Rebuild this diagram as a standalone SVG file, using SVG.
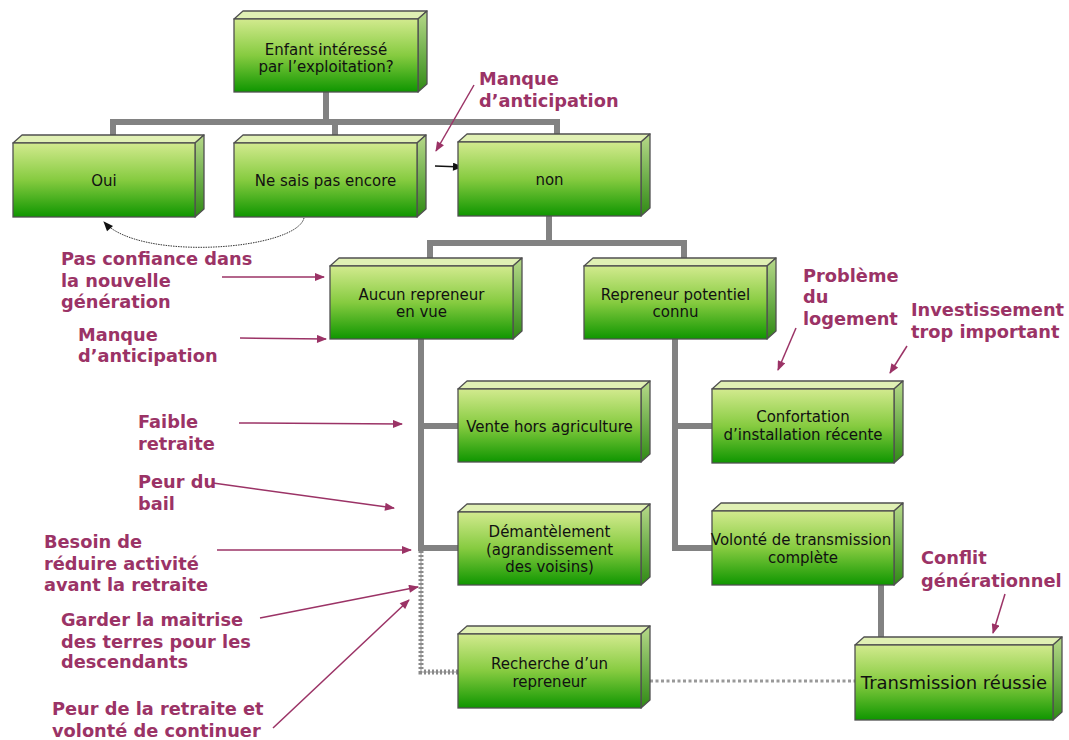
<svg xmlns="http://www.w3.org/2000/svg" width="1069" height="740" viewBox="0 0 1069 740">
<defs>
<linearGradient id="gf" x1="0" y1="0" x2="0" y2="1">
<stop offset="0" stop-color="#d2ea8e"/>
<stop offset="0.5" stop-color="#86cb40"/>
<stop offset="1" stop-color="#0f9600"/>
</linearGradient>
<linearGradient id="gr" x1="0" y1="0" x2="0" y2="1">
<stop offset="0" stop-color="#b7d98a"/>
<stop offset="1" stop-color="#2f8a14"/>
</linearGradient>
<marker id="ap" viewBox="0 0 10 8" refX="9" refY="4" markerWidth="11" markerHeight="8" markerUnits="userSpaceOnUse" orient="auto">
<path d="M0,0 L10,4 L0,8 Z" fill="#9b3366"/>
</marker>
<marker id="ab" viewBox="0 0 10 8" refX="9" refY="4" markerWidth="11" markerHeight="8" markerUnits="userSpaceOnUse" orient="auto">
<path d="M0,0 L10,4 L0,8 Z" fill="#111"/>
</marker>
<style>
.f{fill:url(#gf);stroke:#505050;stroke-width:1.3}
.t{fill:#e0f0b4;stroke:#505050;stroke-width:1.3;stroke-linejoin:round}
.r{fill:url(#gr);stroke:#505050;stroke-width:1.3;stroke-linejoin:round}
.n{font-family:"DejaVu Sans",Verdana,sans-serif;font-size:15px;fill:#111;text-anchor:middle}
.l{font-family:"DejaVu Sans",Verdana,sans-serif;font-size:17.8px;font-weight:bold;fill:#9b3366}
.c{fill:none;stroke:#828282;stroke-width:6}
.pa{fill:none;stroke:#9b3366;stroke-width:1.5;marker-end:url(#ap)}
</style>
</defs>
<rect width="1069" height="740" fill="#fff"/>

<g id="connectors">
<path class="c" d="M326,92 V122 M113,135 V122 H557 V135 M335,122 V135"/>
<path class="c" d="M549,216 V243 M430,258 V243 H684 V258"/>
<path class="c" d="M421,339 V548 H458 M421,426 H458"/>
<path class="c" d="M675,339 V548 H712 M675,426 H712"/>
<path class="c" d="M881,585 V645"/>
<path d="M421,551 V672 H458" fill="none" stroke="#8a8a8a" stroke-width="5" stroke-dasharray="2 2"/>
<path d="M421,551 V672 H458" fill="none" stroke="#c8c8c8" stroke-width="2" stroke-dasharray="2 2" stroke-dashoffset="2"/>
<path d="M650,681 H855" fill="none" stroke="#999" stroke-width="3" stroke-dasharray="3 2.5"/>
<path d="M304,218 C296,250 140,262 104,222" fill="none" stroke="#333" stroke-width="1" stroke-dasharray="1.5 1" marker-end="url(#ab)"/>
<path d="M435,166 L462,167" fill="none" stroke="#111" stroke-width="1.3" marker-end="url(#ab)"/>
<path class="pa" d="M474,85 L436,151"/>
<path class="pa" d="M222,277 L324,277"/>
<path class="pa" d="M240,338 L326,339"/>
<path class="pa" d="M239,423 L402,424"/>
<path class="pa" d="M213,483 L394,508"/>
<path class="pa" d="M217,550 L411,550"/>
<path class="pa" d="M260,618 L418,587"/>
<path class="pa" d="M273,728 L409,600"/>
<path class="pa" d="M796,328 L778,370"/>
<path class="pa" d="M907,346 L890,373"/>
<path class="pa" d="M1005,594 L993,633"/>
</g>

<g id="n-enfant">
<polygon class="t" points="234,19 243,11 427,11 418,19"/>
<polygon class="r" points="418,19 427,11 427,84 418,92"/>
<rect class="f" x="234" y="19" width="184" height="73"/>
<text class="n" x="326" y="55">Enfant intéressé</text>
<text class="n" x="326" y="72">par l’exploitation?</text>
</g>

<g id="n-oui">
<polygon class="t" points="13,143 22,135 204,135 195,143"/>
<polygon class="r" points="195,143 204,135 204,209 195,217"/>
<rect class="f" x="13" y="143" width="182" height="74"/>
<text class="n" x="104" y="186">Oui</text>
</g>

<g id="n-nesais">
<polygon class="t" points="234,143 243,135 426,135 417,143"/>
<polygon class="r" points="417,143 426,135 426,209 417,217"/>
<rect class="f" x="234" y="143" width="183" height="74"/>
<text class="n" x="325.5" y="186">Ne sais pas encore</text>
</g>

<g id="n-non">
<polygon class="t" points="458,142 467,134 650,134 641,142"/>
<polygon class="r" points="641,142 650,134 650,208 641,216"/>
<rect class="f" x="458" y="142" width="183" height="74"/>
<text class="n" x="549.5" y="185">non</text>
</g>

<g id="n-aucun">
<polygon class="t" points="330,266 339,258 522,258 513,266"/>
<polygon class="r" points="513,266 522,258 522,331 513,339"/>
<rect class="f" x="330" y="266" width="183" height="73"/>
<text class="n" x="421.5" y="300">Aucun repreneur</text>
<text class="n" x="421.5" y="317">en vue</text>
</g>

<g id="n-repreneur">
<polygon class="t" points="584,266 593,258 776,258 767,266"/>
<polygon class="r" points="767,266 776,258 776,331 767,339"/>
<rect class="f" x="584" y="266" width="183" height="73"/>
<text class="n" x="675.5" y="300">Repreneur potentiel</text>
<text class="n" x="675.5" y="317">connu</text>
</g>

<g id="n-vente">
<polygon class="t" points="458,389 467,381 650,381 641,389"/>
<polygon class="r" points="641,389 650,381 650,454 641,462"/>
<rect class="f" x="458" y="389" width="183" height="73"/>
<text class="n" x="549.5" y="432">Vente hors agriculture</text>
</g>

<g id="n-confortation">
<polygon class="t" points="712,389 721,381 903,381 894,389"/>
<polygon class="r" points="894,389 903,381 903,455 894,463"/>
<rect class="f" x="712" y="389" width="182" height="74"/>
<text class="n" x="803" y="422">Confortation</text>
<text class="n" x="803" y="440">d’installation récente</text>
</g>

<g id="n-demantelement">
<polygon class="t" points="458,512 467,504 650,504 641,512"/>
<polygon class="r" points="641,512 650,504 650,577 641,585"/>
<rect class="f" x="458" y="512" width="183" height="73"/>
<text class="n" x="549.5" y="537">Démantèlement</text>
<text class="n" x="549.5" y="555">(agrandissement</text>
<text class="n" x="549.5" y="572">des voisins)</text>
</g>

<g id="n-volonte">
<polygon class="t" points="712,511 721,503 903,503 894,511"/>
<polygon class="r" points="894,511 903,503 903,577 894,585"/>
<rect class="f" x="712" y="511" width="182" height="74"/>
<text class="n" x="801" y="545">Volonté de transmission</text>
<text class="n" x="803" y="563">complète</text>
</g>

<g id="n-recherche">
<polygon class="t" points="458,634 467,626 650,626 641,634"/>
<polygon class="r" points="641,634 650,626 650,700 641,708"/>
<rect class="f" x="458" y="634" width="183" height="74"/>
<text class="n" x="549.5" y="669">Recherche d’un</text>
<text class="n" x="549.5" y="687">repreneur</text>
</g>

<g id="n-transmission">
<polygon class="t" points="855,645 864,637 1062,637 1053,645"/>
<polygon class="r" points="1053,645 1062,637 1062,712 1053,720"/>
<rect class="f" x="855" y="645" width="198" height="75"/>
<text class="n" x="954" y="689" style="font-size:18px">Transmission réussie</text>
</g>

<g id="labels">
<text class="l" x="479" y="85">Manque</text>
<text class="l" x="479" y="107">d’anticipation</text>
<text class="l" x="61" y="265">Pas confiance dans</text>
<text class="l" x="61" y="287">la nouvelle</text>
<text class="l" x="61" y="308">génération</text>
<text class="l" x="78" y="341">Manque</text>
<text class="l" x="78" y="362">d’anticipation</text>
<text class="l" x="138" y="428">Faible</text>
<text class="l" x="138" y="450">retraite</text>
<text class="l" x="138" y="488">Peur du</text>
<text class="l" x="138" y="510">bail</text>
<text class="l" x="44" y="548">Besoin de</text>
<text class="l" x="44" y="570">réduire activité</text>
<text class="l" x="44" y="591">avant la retraite</text>
<text class="l" x="61" y="626">Garder la maitrise</text>
<text class="l" x="61" y="648">des terres pour les</text>
<text class="l" x="61" y="668">descendants</text>
<text class="l" x="52" y="715">Peur de la retraite et</text>
<text class="l" x="52" y="737">volonté de continuer</text>
<text class="l" x="803" y="282">Problème</text>
<text class="l" x="803" y="303">du</text>
<text class="l" x="803" y="325">logement</text>
<text class="l" x="911" y="316">Investissement</text>
<text class="l" x="911" y="338">trop important</text>
<text class="l" x="921" y="564">Conflit</text>
<text class="l" x="921" y="587">générationnel</text>
</g>
</svg>
